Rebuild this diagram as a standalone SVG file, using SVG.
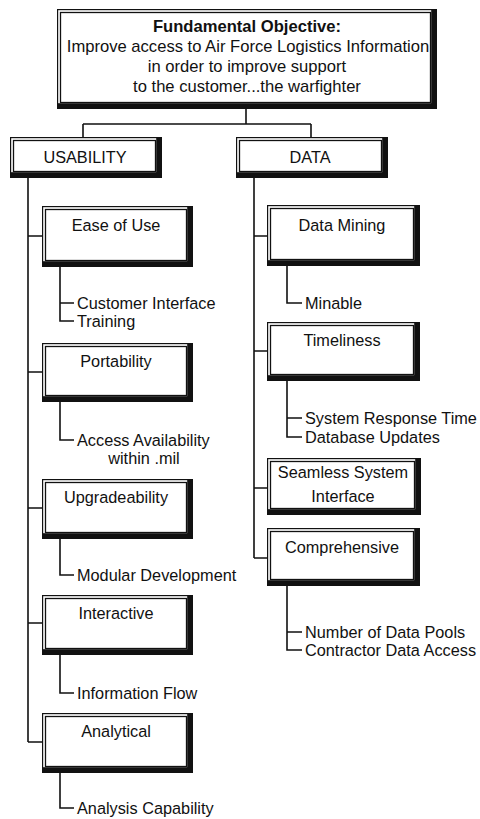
<svg xmlns="http://www.w3.org/2000/svg" width="480" height="819" viewBox="0 0 480 819">
<style>
text{font-family:"Liberation Sans",Arial,Helvetica,sans-serif;font-size:16.3px;fill:#111}
.c{text-anchor:middle}
.b{font-weight:bold}
.t{font-size:16.6px}
.sh{fill:#111}
.gp{fill:#fff}
.in{fill:#fff;stroke:#111;stroke-width:1.3}
.ln{fill:none;stroke:#111;stroke-width:1.6}
</style>
<rect width="480" height="819" fill="#fff"/>
<g id="connectors">
<path class="ln" d="M246 108V124M83 124H311M83 124V137M311 124V137"/>
<path class="ln" d="M28 178V742M28 236H42M28 372H42M28 508H42M28 623H42M28 742H42"/>
<path class="ln" d="M254 178V558M254 236H267M254 351H267M254 488H267M254 558H267"/>
<path class="ln" d="M60 267V321H74M60 303H74"/>
<path class="ln" d="M60 402V440H74"/>
<path class="ln" d="M60 539V575H74"/>
<path class="ln" d="M60 655V693H74"/>
<path class="ln" d="M60 773V808H74"/>
<path class="ln" d="M287 266V303H302"/>
<path class="ln" d="M287 381V437H302M287 418H302"/>
<path class="ln" d="M287 586V650H302M287 632H302"/>
</g>
<g id="objective">
<rect class="sh" x="57" y="9" width="380" height="100"/>
<rect class="gp" x="58.2" y="10.2" width="373" height="93"/>
<rect class="in" x="60.5" y="12.5" width="370" height="90"/>
<text class="c b t" x="247" y="32">Fundamental Objective:</text>
<text class="c t" x="248" y="52">Improve access to Air Force Logistics Information</text>
<text class="c t" x="247" y="72">in order to improve support</text>
<text class="c t" x="247" y="92">to the customer...the warfighter</text>
</g>
<g id="usability">
<rect class="sh" x="10" y="137" width="152" height="41"/>
<rect class="gp" x="11.2" y="138.2" width="145" height="34"/>
<rect class="in" x="13.5" y="140.5" width="142" height="31"/>
<text class="c" x="85" y="163">USABILITY</text>
</g>
<g id="data">
<rect class="sh" x="236" y="137" width="152" height="41"/>
<rect class="gp" x="237.2" y="138.2" width="145" height="34"/>
<rect class="in" x="239.5" y="140.5" width="142" height="31"/>
<text class="c" x="310" y="163">DATA</text>
</g>
<g id="ease-of-use">
<rect class="sh" x="42" y="206" width="151" height="61"/>
<rect class="gp" x="43.2" y="207.2" width="144" height="54"/>
<rect class="in" x="45.5" y="209.5" width="141" height="51"/>
<text class="c" x="116" y="231">Ease of Use</text>
<text x="77" y="309">Customer Interface</text>
<text x="77" y="327">Training</text>
</g>
<g id="portability">
<rect class="sh" x="42" y="343" width="151" height="59"/>
<rect class="gp" x="43.2" y="344.2" width="144" height="52"/>
<rect class="in" x="45.5" y="346.5" width="141" height="49"/>
<text class="c" x="116" y="367">Portability</text>
<text x="77" y="446">Access Availability</text>
<text class="c" x="144" y="464">within .mil</text>
</g>
<g id="upgradeability">
<rect class="sh" x="42" y="479" width="151" height="60"/>
<rect class="gp" x="43.2" y="480.2" width="144" height="53"/>
<rect class="in" x="45.5" y="482.5" width="141" height="50"/>
<text class="c" x="116" y="503">Upgradeability</text>
<text x="77" y="581">Modular Development</text>
</g>
<g id="interactive">
<rect class="sh" x="42" y="595" width="151" height="60"/>
<rect class="gp" x="43.2" y="596.2" width="144" height="53"/>
<rect class="in" x="45.5" y="598.5" width="141" height="50"/>
<text class="c" x="116" y="619">Interactive</text>
<text x="77" y="699">Information Flow</text>
</g>
<g id="analytical">
<rect class="sh" x="42" y="713" width="151" height="60"/>
<rect class="gp" x="43.2" y="714.2" width="144" height="53"/>
<rect class="in" x="45.5" y="716.5" width="141" height="50"/>
<text class="c" x="116" y="737">Analytical</text>
<text x="77" y="814">Analysis Capability</text>
</g>
<g id="data-mining">
<rect class="sh" x="267" y="205" width="153" height="61"/>
<rect class="gp" x="268.2" y="206.2" width="146" height="54"/>
<rect class="in" x="270.5" y="208.5" width="143" height="51"/>
<text class="c" x="342" y="231">Data Mining</text>
<text x="305" y="309">Minable</text>
</g>
<g id="timeliness">
<rect class="sh" x="267" y="322" width="153" height="59"/>
<rect class="gp" x="268.2" y="323.2" width="146" height="52"/>
<rect class="in" x="270.5" y="325.5" width="143" height="49"/>
<text class="c" x="342" y="346">Timeliness</text>
<text x="305" y="424">System Response Time</text>
<text x="305" y="443">Database Updates</text>
</g>
<g id="seamless">
<rect class="sh" x="267" y="458" width="154" height="57"/>
<rect class="gp" x="268.2" y="459.2" width="147" height="50"/>
<rect class="in" x="270.5" y="461.5" width="144" height="47"/>
<text class="c" x="343" y="478">Seamless System</text>
<text class="c" x="343" y="502">Interface</text>
</g>
<g id="comprehensive">
<rect class="sh" x="267" y="528" width="153" height="58"/>
<rect class="gp" x="268.2" y="529.2" width="146" height="51"/>
<rect class="in" x="270.5" y="531.5" width="143" height="48"/>
<text class="c" x="342" y="553">Comprehensive</text>
<text x="305" y="638">Number of Data Pools</text>
<text x="305" y="656">Contractor Data Access</text>
</g>
</svg>
